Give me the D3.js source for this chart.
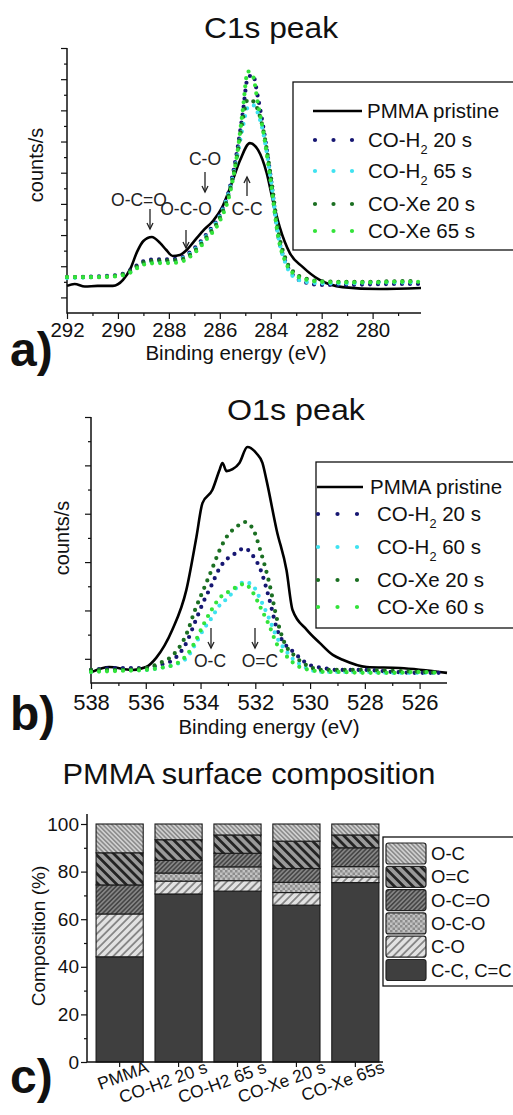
<!DOCTYPE html>
<html>
<head>
<meta charset="utf-8">
<script src="https://cdn.jsdelivr.net/npm/d3@7"></script>
<style>
  body { margin: 0; background: #fff; }
  svg { display: block; font-family: Arial, "Liberation Sans", sans-serif; }
</style>
</head>
<body>
<div id="chart"></div>
<script>
// ---- data ----

// a) C1s spectra (binding energy in eV, counts in arbitrary units)
const c1sPristineE = [292.0, 291.7, 291.3, 290.8, 290.2, 289.8, 289.5, 289.25, 289.0, 288.67, 288.35, 288.1, 287.85, 287.57, 287.3, 287.06, 286.67, 286.27, 285.92, 285.6, 285.2, 284.82, 284.5, 284.16, 283.92, 283.65, 283.25, 282.75, 282.08, 281.18, 279.73, 278.1]
const c1sPristine  = [0.87, 0.93, 0.85, 0.87, 0.87, 1.06, 1.44, 1.96, 2.31, 2.44, 2.25, 2.02, 1.83, 1.86, 2.02, 2.25, 2.63, 2.95, 3.37, 4.01, 4.91, 5.45, 5.23, 4.49, 3.62, 2.76, 1.92, 1.48, 1.06, 0.83, 0.77, 0.80]

const c1sE      = [292, 291, 290, 289.5, 289, 288.5, 288, 287.5, 287, 286.5, 286, 285.6, 285.3, 285.1, 284.9, 284.7, 284.5, 284.3, 284.0, 283.7, 283.4, 283.0, 282.5, 282, 281, 280, 279, 278.2]
const c1sH2_20  = [1.15, 1.17, 1.22, 1.38, 1.66, 1.72, 1.72, 1.78, 2.08, 2.55, 3.15, 4.05, 5.30, 6.40, 7.55, 7.63, 6.90, 6.00, 4.35, 2.45, 1.60, 1.12, 0.95, 0.90, 0.90, 0.92, 0.93, 0.93]
const c1sH2_65  = [1.12, 1.15, 1.20, 1.32, 1.60, 1.65, 1.66, 1.74, 2.02, 2.50, 3.10, 4.00, 5.10, 5.95, 6.60, 6.67, 6.40, 5.80, 4.30, 2.45, 1.55, 1.10, 0.98, 0.95, 0.95, 0.98, 0.98, 0.98]
const c1sXe_20  = [1.15, 1.15, 1.20, 1.35, 1.62, 1.68, 1.68, 1.72, 1.98, 2.45, 3.05, 3.95, 5.15, 6.20, 6.85, 6.80, 6.50, 5.90, 4.40, 2.60, 1.70, 1.25, 1.08, 1.02, 1.00, 1.00, 1.02, 1.02]
const c1sXe_65  = [1.15, 1.15, 1.18, 1.30, 1.55, 1.60, 1.60, 1.65, 1.92, 2.38, 2.95, 3.85, 5.20, 6.50, 7.75, 7.60, 6.70, 5.85, 4.20, 2.40, 1.60, 1.20, 1.05, 1.00, 0.98, 0.98, 1.00, 1.00]

const c1sXTicks = [292, 290, 288, 286, 284, 282, 280]

// b) O1s spectra
const o1sPristineE = [537.96, 537.34, 536.5, 535.99, 535.62, 535.03, 534.52, 534.15, 533.93, 533.57, 533.31, 533.2, 533.05, 532.83, 532.58, 532.29, 531.96, 531.74, 531.59, 531.22, 530.86, 530.64, 530.12, 529.65, 529.17, 528.81, 527.93, 526.72, 525.0]
const o1sPristine  = [0.23, 0.33, 0.27, 0.33, 0.52, 1.10, 1.92, 3.02, 3.72, 3.99, 4.40, 4.55, 4.38, 4.42, 4.55, 4.88, 4.75, 4.55, 4.19, 3.16, 2.33, 1.51, 1.10, 0.83, 0.58, 0.48, 0.33, 0.31, 0.21]

const o1sE      = [538, 537, 536, 535.5, 535, 534.5, 534.2, 533.9, 533.6, 533.3, 533.0, 532.7, 532.4, 532.1, 531.8, 531.5, 531.2, 530.9, 530.6, 530.3, 530, 529.5, 529, 528, 527, 526, 525.3]
const o1sH2_20  = [0.27, 0.31, 0.31, 0.37, 0.48, 0.85, 1.26, 1.67, 2.02, 2.38, 2.58, 2.69, 2.79, 2.64, 2.33, 1.76, 1.10, 0.79, 0.64, 0.48, 0.37, 0.31, 0.27, 0.27, 0.23, 0.21, 0.21]
const o1sH2_60  = [0.23, 0.27, 0.27, 0.31, 0.37, 0.52, 0.79, 1.10, 1.34, 1.61, 1.76, 1.96, 2.09, 2.02, 1.71, 1.34, 0.93, 0.68, 0.48, 0.37, 0.27, 0.23, 0.23, 0.23, 0.21, 0.21, 0.21]
const o1sXe_20  = [0.27, 0.27, 0.31, 0.41, 0.58, 1.03, 1.51, 1.92, 2.33, 2.75, 3.06, 3.22, 3.33, 3.20, 2.71, 2.09, 1.30, 0.79, 0.58, 0.43, 0.33, 0.27, 0.27, 0.27, 0.25, 0.23, 0.21]
const o1sXe_60  = [0.23, 0.25, 0.27, 0.31, 0.37, 0.58, 0.85, 1.20, 1.51, 1.76, 1.88, 1.98, 2.05, 1.88, 1.55, 1.20, 0.79, 0.58, 0.41, 0.31, 0.27, 0.23, 0.23, 0.21, 0.21, 0.23, 0.21]

const o1sXTicks = [538, 536, 534, 532, 530, 528, 526]

const seriesColors = ["#161672", "#3fe2f0", "#1b6f22", "#33e33a"]
const c1sLabels = [["CO-H", "2", " 20 s"], ["CO-H", "2", " 65 s"], ["CO-Xe 20 s"], ["CO-Xe 65 s"]]
const o1sLabels = [["CO-H", "2", " 20 s"], ["CO-H", "2", " 60 s"], ["CO-Xe 20 s"], ["CO-Xe 60 s"]]

// c) surface composition (%), bottom to top
const samples      = ["PMMA", "CO-H2 20 s", "CO-H2 65 s", "CO-Xe 20 s", "CO-Xe 65s"]
const components   = ["C-C, C=C", "C-O", "O-C-O", "O-C=O", "O=C", "O-C"]
const ccValues     = [44.2, 70.6, 71.8, 65.9, 75.4]
const coValues     = [18.0, 5.4, 4.4, 5.3, 2.3]
const ocoValues    = [0.0, 3.4, 5.8, 4.3, 4.4]
const ocdoValues   = [12.2, 5.3, 5.7, 5.8, 7.9]
const odcValues    = [13.5, 8.7, 7.7, 11.5, 5.4]
const ocValues     = [12.1, 6.6, 4.6, 7.2, 4.6]
const compTicks    = [0, 20, 40, 60, 80, 100]

// ---- drawing ----
const W = 513, H = 1115
const svg = d3.select("#chart").append("svg")
  .attr("width", W).attr("height", H)
  .attr("viewBox", `0 0 ${W} ${H}`)

const defs = svg.append("defs")

function hatch(id, base, line, lw, gap, angle) {
  const p = defs.append("pattern").attr("id", id)
    .attr("patternUnits", "userSpaceOnUse")
    .attr("width", gap).attr("height", gap)
    .attr("patternTransform", `rotate(${angle})`)
  p.append("rect").attr("width", gap).attr("height", gap).attr("fill", base)
  p.append("line").attr("x1", gap / 2).attr("x2", gap / 2).attr("y1", 0).attr("y2", gap)
    .attr("stroke", line).attr("stroke-width", lw)
}
hatch("p-oc",   "#cfcfcf", "#6e6e6e", 1.1, 3.2, -45)
hatch("p-odc",  "#9a9a9a", "#242424", 2.8, 6.5, -45)
hatch("p-ocdo", "#858585", "#383838", 1.3, 3.2, 45)
hatch("p-co",   "#e2e2e2", "#7a7a7a", 1.6, 5.5, 45)
{
  const p = defs.append("pattern").attr("id", "p-oco")
    .attr("patternUnits", "userSpaceOnUse").attr("width", 5).attr("height", 5)
  p.append("rect").attr("width", 5).attr("height", 5).attr("fill", "#c2c2c2")
  p.append("rect").attr("width", 2.5).attr("height", 2.5).attr("fill", "#8c8c8c")
  p.append("rect").attr("x", 2.5).attr("y", 2.5).attr("width", 2.5).attr("height", 2.5).attr("fill", "#8c8c8c")
}
const compFill = ["#3f3f3f", "url(#p-co)", "url(#p-oco)", "url(#p-ocdo)", "url(#p-odc)", "url(#p-oc)"]

function ticksAxis(g, axisFn, scale, major, minor, bigLen, smallLen, fmt, pad) {
  g.append("g").call(axisFn(scale).tickValues(minor).tickSize(smallLen).tickSizeOuter(0).tickFormat(""))
  const a = g.append("g").call(axisFn(scale).tickValues(major).tickSize(bigLen).tickSizeOuter(0)
    .tickFormat(fmt || "").tickPadding(pad || 3))
  g.selectAll(".domain").remove()
  g.selectAll("line").attr("stroke", "#111").attr("stroke-width", 1.2)
  return a
}

function legendLabel(sel, parts, fs) {
  sel.append("tspan").text(parts[0])
  if (parts.length > 1) {
    sel.append("tspan").attr("font-size", fs * 0.62).attr("dy", fs * 0.3).text(parts[1])
    sel.append("tspan").attr("dy", -fs * 0.3).text(parts[2])
  }
}

function drawSpectrum(o) {
  const x = d3.scaleLinear().domain(o.xDomain).range(o.xRange)
  const y = d3.scaleLinear().domain(o.yDomain).range(o.yRange)
  const g = svg.append("g")

  // x axis: majors every 2 eV, minors in between
  const minorX = d3.range(o.xTicks[0] - 1, o.xDomain[1], -2)
  const xa = g.append("g").attr("transform", `translate(0,${o.yRange[0]})`)
  ticksAxis(xa, d3.axisBottom, x, o.xTicks, minorX, 6, 3, d3.format("d"), o.xPad)
  xa.selectAll("text").attr("font-size", o.tickFs).attr("fill", "#111").attr("font-family", "Arial, sans-serif")

  // y axis without labels
  const majY = d3.range(0.5, o.yDomain[1] + 0.01, 1)
  const minY = d3.range(1, o.yDomain[1], 1)
  const ya = g.append("g").attr("transform", `translate(${o.xRange[0]},0)`)
  ticksAxis(ya, d3.axisLeft, y, majY, minY, 6, 3)

  g.append("path")
    .attr("d", `M${o.xRange[0]},${o.yRange[1]}V${o.yRange[0]}H${o.xRange[1]}`)
    .attr("fill", "none").attr("stroke", "#111").attr("stroke-width", 1.5)

  const line = (E) => d3.line().x((d, i) => x(E[i])).y(d => y(d)).curve(d3.curveMonotoneX)

  g.append("path").datum(o.pristine)
    .attr("d", line(o.pristineE))
    .attr("fill", "none").attr("stroke", "#000").attr("stroke-width", 2.6)

  o.series.forEach((s, i) => {
    g.append("path").datum(s)
      .attr("d", line(o.E))
      .attr("fill", "none").attr("stroke", seriesColors[i])
      .attr("stroke-width", 4.2).attr("stroke-linecap", "round")
      .attr("stroke-dasharray", "0 8")
  })

  // peak annotations
  o.notes.forEach(n => {
    g.append("text").attr("x", n.tx).attr("y", n.ty).attr("text-anchor", "middle")
      .attr("font-size", o.noteFs).attr("fill", "#222").text(n.label)
    if (n.ax !== undefined) {
      g.append("line").attr("x1", n.ax).attr("x2", n.ax).attr("y1", n.a0).attr("y2", n.a1)
        .attr("stroke", "#222").attr("stroke-width", 1.3)
      const d = n.a1 > n.a0 ? -1 : 1
      g.append("path")
        .attr("d", `M${n.ax - 3},${n.a1 + d * 6}L${n.ax},${n.a1}L${n.ax + 3},${n.a1 + d * 6}`)
        .attr("fill", "none").attr("stroke", "#222").attr("stroke-width", 1.3)
    }
  })

  // titles and labels
  svg.append("text").attr("x", o.title.x).attr("y", o.title.y).attr("text-anchor", "middle")
    .attr("font-size", 29).attr("fill", "#111")
    .attr("textLength", o.title.w).attr("lengthAdjust", "spacingAndGlyphs").text(o.title.text)
  svg.append("text").attr("x", o.xLabel.x).attr("y", o.xLabel.y).attr("text-anchor", "middle")
    .attr("font-size", 20.5).attr("fill", "#111").text("Binding energy (eV)")
  svg.append("text").attr("transform", `translate(${o.yLabel.x},${o.yLabel.y}) rotate(-90)`)
    .attr("text-anchor", "middle").attr("dy", "0.35em")
    .attr("font-size", 20).attr("fill", "#111").text("counts/s")
  svg.append("text").attr("x", o.tag.x).attr("y", o.tag.y)
    .attr("font-size", 48).attr("font-weight", "bold").attr("fill", "#111").text(o.tag.text)

  // legend
  const lg = svg.append("g")
  lg.append("rect").attr("x", o.legend.x).attr("y", o.legend.y)
    .attr("width", W - o.legend.x + 10).attr("height", o.legend.h)
    .attr("fill", "#fff").attr("stroke", "#111").attr("stroke-width", 1.3)
  const rows = o.legend.rows
  lg.append("line").attr("x1", o.legend.l0).attr("x2", o.legend.l1)
    .attr("y1", rows[0]).attr("y2", rows[0]).attr("stroke", "#000").attr("stroke-width", 2.6)
  lg.append("text").attr("x", o.legend.tx0).attr("y", rows[0]).attr("dy", "0.36em")
    .attr("font-size", o.legend.fs).attr("fill", "#111").text("PMMA pristine")
  o.labels.forEach((parts, i) => {
    const yy = rows[i + 1]
    lg.append("line").attr("x1", o.legend.d0).attr("x2", o.legend.d0 + 2 * o.legend.dg + 0.1)
      .attr("y1", yy).attr("y2", yy).attr("stroke", seriesColors[i])
      .attr("stroke-width", 4.2).attr("stroke-linecap", "round")
      .attr("stroke-dasharray", `0 ${o.legend.dg}`)
    const t = lg.append("text").attr("x", o.legend.tx).attr("y", yy).attr("dy", "0.36em")
      .attr("font-size", o.legend.fs).attr("fill", "#111")
    legendLabel(t, parts, o.legend.fs)
  })
}

drawSpectrum({
  xDomain: [292, 278.1], xRange: [67, 421],
  yDomain: [0, 8.5], yRange: [313, 48],
  xTicks: c1sXTicks, xPad: 3, tickFs: 20.5,
  pristineE: c1sPristineE, pristine: c1sPristine,
  E: c1sE, series: [c1sH2_20, c1sH2_65, c1sXe_20, c1sXe_65],
  labels: c1sLabels, noteFs: 17.5,
  notes: [
    { label: "O-C=O", tx: 139, ty: 206, ax: 150, a0: 209, a1: 229 },
    { label: "O-C-O", tx: 186, ty: 215, ax: 186, a0: 230, a1: 248 },
    { label: "C-O",   tx: 205, ty: 165, ax: 205, a0: 172, a1: 192 },
    { label: "C-C",   tx: 247, ty: 215, ax: 247, a0: 196, a1: 177 }
  ],
  title: { text: "C1s peak", x: 271, y: 38, w: 134 },
  xLabel: { x: 236, y: 360 },
  yLabel: { x: 36, y: 165 },
  tag: { text: "a)", x: 10, y: 366 },
  legend: { x: 293, y: 82, h: 168, rows: [111, 140, 171, 204, 231],
            l0: 313, l1: 362, d0: 315, dg: 18.5, tx0: 367, tx: 368, fs: 20.5 }
})

drawSpectrum({
  xDomain: [538, 525], xRange: [91, 447],
  yDomain: [0, 5.5], yRange: [683, 417],
  xTicks: o1sXTicks, xPad: 5, tickFs: 22,
  pristineE: o1sPristineE, pristine: o1sPristine,
  E: o1sE, series: [o1sH2_20, o1sH2_60, o1sXe_20, o1sXe_60],
  labels: o1sLabels, noteFs: 17.5,
  notes: [
    { label: "O-C", tx: 210, ty: 667, ax: 211, a0: 628, a1: 648 },
    { label: "O=C", tx: 260, ty: 667, ax: 255, a0: 628, a1: 648 }
  ],
  title: { text: "O1s peak", x: 296, y: 420, w: 138 },
  xLabel: { x: 269, y: 734 },
  yLabel: { x: 62, y: 538 },
  tag: { text: "b)", x: 10, y: 730 },
  legend: { x: 316, y: 462, h: 166, rows: [487, 514, 547, 580, 607],
            l0: 317, l1: 363, d0: 318, dg: 19.5, tx0: 370, tx: 377, fs: 20.5 }
})

// ---- c) stacked composition bars ----
{
  const rows = samples.map((s, i) => ({
    sample: s,
    "C-C, C=C": ccValues[i], "C-O": coValues[i], "O-C-O": ocoValues[i],
    "O-C=O": ocdoValues[i], "O=C": odcValues[i], "O-C": ocValues[i]
  }))
  const stacked = d3.stack().keys(components)(rows)

  const x = d3.scaleBand().domain(samples).range([89, 386]).paddingInner(0.2).paddingOuter(0.12)
  const y = d3.scaleLinear().domain([0, 100]).range([1062, 824])
  const g = svg.append("g")

  stacked.forEach((layer, k) => {
    g.append("g").selectAll("rect")
      .data(layer.filter(d => d[1] - d[0] > 0)).join("rect")
      .attr("x", d => x(d.data.sample))
      .attr("y", d => y(d[1]))
      .attr("width", x.bandwidth())
      .attr("height", d => y(d[0]) - y(d[1]))
      .attr("fill", compFill[k])
      .attr("stroke", "#1a1a1a").attr("stroke-width", 1.1)
  })

  // y axis
  const ya = g.append("g").attr("transform", "translate(87,0)")
  ticksAxis(ya, d3.axisLeft, y, compTicks, d3.range(10, 100, 20), 6, 3, d3.format("d"), 2)
  ya.selectAll("text").attr("font-size", 19).attr("fill", "#111").attr("font-family", "Arial, sans-serif")

  // x axis with rotated sample names
  const xa = g.append("g").attr("transform", "translate(0,1062)")
  xa.call(d3.axisBottom(x).tickSize(5).tickSizeOuter(0).tickFormat(""))
  xa.select(".domain").remove()
  xa.selectAll("line").attr("stroke", "#111").attr("stroke-width", 1.2)
  samples.forEach(s => {
    const cx = x(s) + x.bandwidth() / 2
    g.append("text").attr("transform", `translate(${cx + 30},1072) rotate(-20)`)
      .attr("text-anchor", "end").attr("font-size", 17.5).attr("fill", "#111").text(s)
  })

  g.append("path").attr("d", "M87,814V1062H383")
    .attr("fill", "none").attr("stroke", "#111").attr("stroke-width", 1.5)

  svg.append("text").attr("x", 249).attr("y", 784).attr("text-anchor", "middle")
    .attr("font-size", 30).attr("fill", "#111")
    .attr("textLength", 373).attr("lengthAdjust", "spacingAndGlyphs")
    .text("PMMA surface composition")
  svg.append("text").attr("transform", "translate(38,936) rotate(-90)")
    .attr("text-anchor", "middle").attr("dy", "0.35em")
    .attr("font-size", 19).attr("fill", "#111").text("Composition (%)")
  svg.append("text").attr("x", 10).attr("y", 1093)
    .attr("font-size", 48).attr("font-weight", "bold").attr("fill", "#111").text("c)")

  // legend, top entry first
  const lg = svg.append("g")
  lg.append("rect").attr("x", 383).attr("y", 837).attr("width", W - 383 + 10).attr("height", 149)
    .attr("fill", "#fff").attr("stroke", "#111").attr("stroke-width", 1.3)
  const order = components.map((c, k) => ({ c, k })).reverse()
  order.forEach((o, i) => {
    const yy = 843 + i * 23.3
    lg.append("rect").attr("x", 386).attr("y", yy).attr("width", 40).attr("height", 21)
      .attr("rx", 2.5).attr("fill", compFill[o.k]).attr("stroke", "#222").attr("stroke-width", 1.2)
    lg.append("text").attr("x", 431).attr("y", yy + 10.5).attr("dy", "0.36em")
      .attr("font-size", 18.5).attr("fill", "#111").text(o.c)
  })
}
</script>
</body>
</html>
